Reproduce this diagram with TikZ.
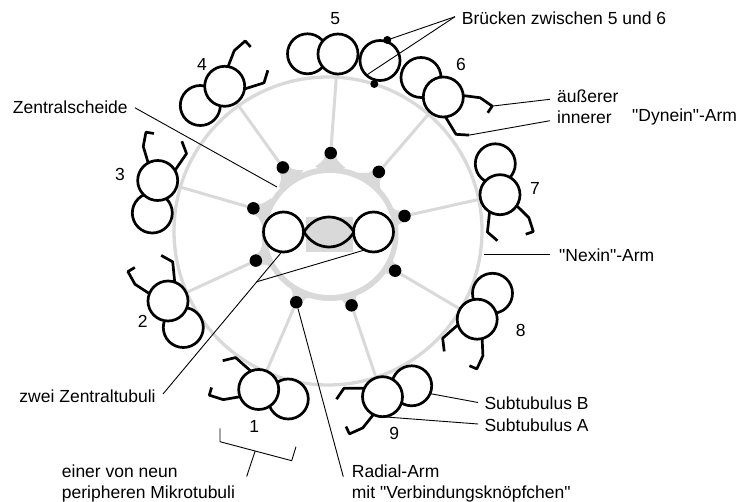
\documentclass[tikz,border=0pt]{standalone}
\usepackage{fontspec}
\setmainfont{Liberation Sans}
\newfontfamily\labelfont{Liberation Sans}
\usetikzlibrary{calc}
\definecolor{lg}{RGB}{217,217,217}
\pgfdeclarelayer{back}
\pgfsetlayers{back,main}
\tikzset{
  tub/.style={circle, draw=black, line width=2.7pt, fill=white, minimum size=40pt, inner sep=0pt, outer sep=0pt},
  knob/.style={circle, fill=black, minimum size=12.5pt, inner sep=0pt},
  bknob/.style={circle, fill=black, minimum size=8pt, inner sep=0pt},
  arm/.style={line width=2.7pt, line join=round},
  spoke/.style={lg, line width=3pt},
  lead/.style={black, line width=0.9pt},
  lbl/.style={inner sep=0pt, anchor=base west, font=\labelfont\fontsize{17.5}{21}\selectfont},
  num/.style={inner sep=0pt, font=\labelfont\fontsize{17.5}{21}\selectfont},
  pics/dynein/.style={code={
    \draw[arm] (13.6pt,-13.4pt) -- (23.5pt,-28.5pt) -- (25pt,-43pt) -- (17pt,-44pt);
    \draw[arm] (-13.7pt,-14.6pt) -- (-20pt,-34pt) -- (-12pt,-44.5pt);
    \coordinate (-outer) at (25pt,-43pt);
    \coordinate (-inner) at (-12pt,-44.5pt);
  }},
}
\begin{document}
\begin{tikzpicture}[x=1pt,y=-1pt]
\useasboundingbox (0,0) rectangle (740,502);
\coordinate (O) at (328,231);
\coordinate (S) at (330,234);

% central sheath with its fillets towards the knobs
\fill[lg] (S) ellipse [x radius=68.5pt, y radius=67pt];
\foreach \a in {88, 49.3, 11.1, -30.6, -72.4, -114, -157.7, 163.1, 125.4} {
  \fill[lg, shift={(O)}, rotate=\a] (64pt,-15pt) .. controls (71pt,-6pt) .. (78pt,-6pt)
    -- (78pt,6pt) .. controls (71pt,6pt) .. (64pt,15pt) -- (56pt,0pt) -- cycle;
}
\fill[white] (S) ellipse [x radius=63pt, y radius=61pt];

% knobs of the radial arms
\foreach \n/\a in {5/88, 6/49.3, 7/11.1, 8/-30.6, 9/-72.4, 1/-114, 2/-157.7, 3/163.1, 4/125.4} {
  \path (O) ++(\a:78pt) node[knob] (k\n) {};
}

% doublet 5 (no dynein arms)
\node[tub] (B5) at (307.5,53.8) {};
\node[tub] (A5) at (338,54) {};

% doublets with dynein arms
\foreach \n/\ax/\ay/\bx/\by/\t in {
  6/443.3/97/421/77.5/49.3,
  7/500/194.7/495.3/163.8/11.9,
  8/477.2/319.2/492.5/293.3/-30.6,
  9/382.5/396.7/411.7/385.8/-71.8,
  1/258.7/389.5/288.3/399/-113.6,
  2/168/301/183.3/327.5/-156.4,
  3/157.7/180.5/152.3/213/163.5,
  4/224.7/86.3/200.3/105.5/125.5} {
  \pic[rotate=\t] (d\n) at (\ax,\ay) {dynein};
  \node[tub] (B\n) at (\bx,\by) {};
  \node[tub] (A\n) at (\ax,\ay) {};
}

% bridge between 5 and 6
\node[tub] (br) at (380,60.5) {};
\node[bknob] (bk1) at (387.3,40) {};
\node[bknob] (bk2) at (374.3,84) {};

% outer ring and radial spokes
\begin{pgfonlayer}{back}
  \draw[lg, line width=3.3pt] (O) circle [radius=154pt];
  \foreach \n in {1,...,9} { \draw[spoke] (k\n) -- (A\n); }
\end{pgfonlayer}

% central pair
\fill[lg] (306,217.3) rectangle (353.3,251.7);
\draw[line width=2.7pt, fill=lg] (304,232) .. controls (316,212) and (342,212) .. (354,232)
  .. controls (342,252) and (316,252) .. (304,232) -- cycle;
\node[tub] (c1) at (283.5,232) {};
\node[tub] (c2) at (373.5,232) {};

% doublet numbers
\node[num] (n1) at (254.3,426) {1};
\node[num] (n2) at (142.7,321.7) {2};
\node[num] (n3) at (120,174) {3};
\node[num] (n4) at (202,64) {4};
\node[num] (n5) at (335.3,19) {5};
\node[num] (n6) at (461,64) {6};
\node[num] (n7) at (535,188.3) {7};
\node[num] (n8) at (520.7,330) {8};
\node[num] (n9) at (394.3,433.3) {9};

% labels
\node[lbl] (tzs) at (12.7,114) {Zentralscheide};
\node[lbl] (tbr) at (461.7,25) {Brücken zwischen 5 und 6};
\node[lbl] (tau) at (557,103) {äußerer};
\node[lbl] (tin) at (557,124) {innerer};
\node[lbl] (tdy) at (632,122) {"Dynein"-Arm};
\node[lbl] (tnx) at (559,262) {"Nexin"-Arm};
\node[lbl] (tsb) at (484.3,410) {Subtubulus B};
\node[lbl] (tsa) at (484.3,431.7) {Subtubulus A};
\node[lbl] (tzt) at (19.3,403) {zwei Zentraltubuli};
\node[lbl] (te1) at (61.7,477.3) {einer von neun};
\node[lbl] (te2) at (61.7,498.3) {peripheren Mikrotubuli};
\node[lbl] (tr1) at (351.7,477.3) {Radial-Arm};
\node[lbl] (tr2) at (351.7,498.3) {mit "Verbindungsknöpfchen"};

% leader lines
\coordinate (brs) at (455,16.7);
\coordinate (bre) at (366.7,75);
\draw[lead] (brs) -- (bk1.center);
\draw[lead] (brs) -- (bre);

\coordinate (aue) at (550,99.3);
\coordinate (ine) at (550,120.7);
\draw[lead] (d6-outer) -- (aue);
\draw[lead] (d6-inner) -- (ine);

\coordinate (zse) at (277,187);
\draw[lead] ([xshift=7pt]tzs.east) -- (zse);

\coordinate (nxs) at (484,254);
\coordinate (nxe) at (550,254);
\draw[lead] (nxs) -- (nxe);

\coordinate (sbe) at (478,402.5);
\coordinate (sae) at (478,424);
\draw[lead] (B9.-23) -- (sbe);
\draw[lead] (A9.-97) -- (sae);

\coordinate (zts) at (163,394);
\draw[lead] (zts) -- (c1.-95);
\draw[lead] ($(zts)!0.79!(c1.-95)$) -- (c2.-116);

\coordinate (rae) at (343.3,476.7);
\draw[lead] (k1) -- (rae);

% bracket marking one peripheral doublet
\coordinate (bq1) at (220,428.3);
\coordinate (bq2) at (220,441.7);
\coordinate (bq3) at (291.7,460.7);
\coordinate (bq4) at (296,446.7);
\coordinate (bqs) at (246.7,476.5);
\draw[lead] (bq1) -- (bq2) -- (bq3) -- (bq4);
\draw[lead] ($(bq2)!0.49!(bq3)$) -- (bqs);
\end{tikzpicture}
\end{document}
